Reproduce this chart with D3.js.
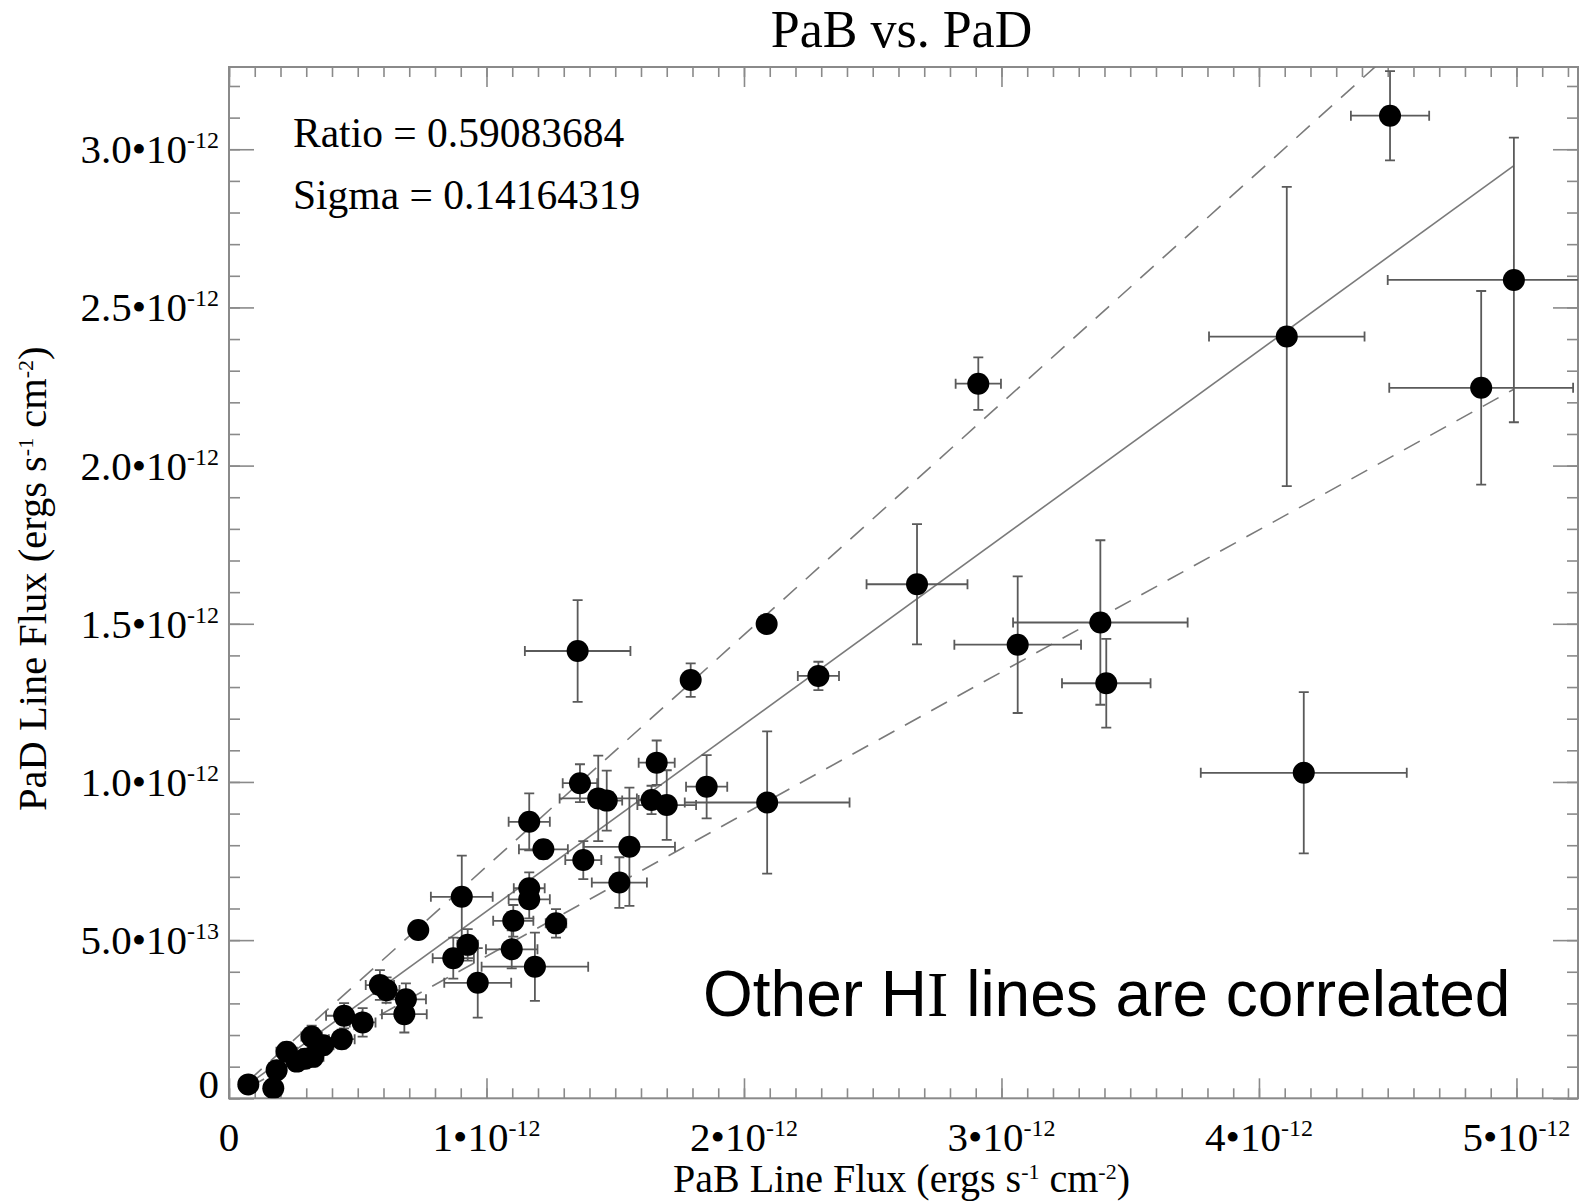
<!DOCTYPE html>
<html><head><meta charset="utf-8">
<script src="https://cdn.jsdelivr.net/npm/d3@7"></script>
<style>body{margin:0;background:#fff}</style>
</head><body>
<svg id="chart" width="1580" height="1204"></svg>
<script>
// Values in units of 1e-12 ergs s^-1 cm^-2
const pabFlux = [4.509,4.99,4.108,4.863,2.910,2.672,3.063,3.384,3.407,4.174,
  1.354,2.088,1.793,2.289,2.090,1.855,1.661,1.641,1.700,1.363,
  1.434,1.467,1.555,1.516,1.376,1.221,1.166,1.166,1.166,1.270,
  1.104,1.098,1.188,0.966,0.927,0.871,0.904,0.735,0.687,0.681,
  0.612,0.586,0.519,0.447,0.438,0.366,0.321,0.327,0.295,0.263,
  0.224,0.185,0.172,0.075];
const padFlux = [3.106,2.587,2.408,2.246,2.259,1.625,1.434,1.504,1.312,1.029,
  1.414,1.499,1.322,1.335,0.935,0.985,1.061,0.943,0.927,0.996,
  0.948,0.941,0.795,0.682,0.753,0.787,0.874,0.664,0.629,0.553,
  0.561,0.471,0.416,0.365,0.485,0.443,0.637,0.532,0.313,0.266,
  0.342,0.358,0.240,0.261,0.187,0.168,0.195,0.131,0.125,0.116,
  0.147,0.089,0.032,0.044];
const pabErr = [0.152,0.49,0.302,0.357,0.088,0.196,0.246,0.339,0.172,0.40,
  0.205,0,0.02,0.08,0.32,0.08,0.07,0.05,0.114,0.067,
  0.15,0.06,0.177,0.107,0.07,0.095,0.08,0.06,0.08,0.04,
  0.078,0.10,0.207,0.13,0.04,0.08,0.12,0,0.078,0.087,
  0.05,0.055,0.05,0.07,0.05,0.04,0.04,0.04,0.04,0.04,
  0.04,0.03,0.02,0.02];
const padErr = [0.141,0.45,0.473,0.306,0.083,0.19,0.216,0.26,0.14,0.255,
  0.161,0,0.053,0.045,0.225,0.10,0.07,0.045,0.11,0.06,
  0.135,0.095,0.187,0.08,0.06,0.03,0.09,0.05,0.06,0.045,
  0.05,0.06,0.108,0.11,0.05,0.065,0.13,0,0.05,0.058,
  0.04,0.047,0.045,0.04,0.03,0.03,0.035,0.03,0.03,0.03,
  0.03,0.02,0.015,0.015];
const ratio = 0.59083684;
const sigma = 0.14164319;
const xTickValues = [0,1,2,3,4,5];
const xTickMantissa = ["0","1•10","2•10","3•10","4•10","5•10"];
const xTickExponent = ["","-12","-12","-12","-12","-12"];
const yTickValues = [0,0.5,1.0,1.5,2.0,2.5,3.0];
const yTickMantissa = ["0","5.0•10","1.0•10","1.5•10","2.0•10","2.5•10","3.0•10"];
const yTickExponent = ["","-13","-12","-12","-12","-12","-12"];

const svg = d3.select("#chart");
const L = 229, R = 1578, T = 67, B = 1098.3;
const x = d3.scaleLinear().domain([0, 5.239]).range([L, R]);
const y = d3.scaleLinear().domain([0, 3.26]).range([B, T]);
const axisCol = "#8a8a8a";
const serif = "'Liberation Serif','Times New Roman',serif";

svg.append("defs").append("clipPath").attr("id","clip")
  .append("rect").attr("x",L).attr("y",T).attr("width",R-L).attr("height",B-T);

// Axes with inward ticks
function tickAxis(axisFn, scale, values, size, transform) {
  const g = svg.append("g").attr("transform", transform)
    .call(axisFn(scale).tickValues(values).tickSize(size).tickFormat(""));
  g.select(".domain").remove();
  g.selectAll("line").attr("stroke", axisCol).attr("stroke-width", 1.6);
}
const xMinor = d3.range(0, 53).map(i => i/10).filter(v => v <= 5.239);
const yMinor = d3.range(0, 33).map(i => i/10).filter(v => v <= 3.26);
tickAxis(d3.axisBottom, x, xMinor, -10, `translate(0,${B})`);
tickAxis(d3.axisBottom, x, xTickValues, -20, `translate(0,${B})`);
tickAxis(d3.axisTop, x, xMinor, -10, `translate(0,${T})`);
tickAxis(d3.axisTop, x, xTickValues, -20, `translate(0,${T})`);
tickAxis(d3.axisLeft, y, yMinor, -11, `translate(${L},0)`);
tickAxis(d3.axisLeft, y, yTickValues, -25, `translate(${L},0)`);
tickAxis(d3.axisRight, y, yMinor, -11, `translate(${R},0)`);
tickAxis(d3.axisRight, y, yTickValues, -25, `translate(${R},0)`);

svg.append("rect").attr("x",L).attr("y",T).attr("width",R-L).attr("height",B-T)
  .attr("fill","none").attr("stroke",axisCol).attr("stroke-width",2);

// tick labels
const tickFont = 41;
function sciText(sel, mant, exp) {
  sel.append("tspan").text(mant);
  if (exp) {
    sel.append("tspan").attr("font-size", 24).attr("dy", -15).text(exp);
  }
}
xTickValues.forEach((v,i) => {
  const t = svg.append("text").attr("x", x(v)).attr("y", 1151)
    .attr("text-anchor","middle").attr("font-family",serif).attr("font-size",tickFont).attr("fill","#000");
  sciText(t, xTickMantissa[i], xTickExponent[i]);
});
yTickValues.forEach((v,i) => {
  const t = svg.append("text").attr("x", 219).attr("y", y(v) + (v === 0 ? 0 : 14))
    .attr("text-anchor","end").attr("font-family",serif).attr("font-size",tickFont).attr("fill","#000");
  sciText(t, yTickMantissa[i], yTickExponent[i]);
});

// titles
svg.append("text").attr("x",(L+R)/2 - 2).attr("y",47).attr("text-anchor","middle")
  .attr("font-family",serif).attr("font-size",52).text("PaB vs. PaD");

function unitTitle(t, name) {
  t.append("tspan").text(name + " Line Flux (ergs s");
  t.append("tspan").attr("font-size",22).attr("dy",-13).text("-1");
  t.append("tspan").attr("dy",13).text(" cm");
  t.append("tspan").attr("font-size",22).attr("dy",-13).text("-2");
  t.append("tspan").attr("dy",13).text(")");
}
unitTitle(svg.append("text").attr("x",(L+R)/2 - 2).attr("y",1192).attr("text-anchor","middle")
  .attr("font-family",serif).attr("font-size",40), "PaB");
unitTitle(svg.append("text").attr("transform",`translate(46,${(T+B)/2 - 4}) rotate(-90)`)
  .attr("text-anchor","middle").attr("font-family",serif).attr("font-size",40.5), "PaD");

// annotations
svg.append("text").attr("x",293).attr("y",147).attr("font-family",serif).attr("font-size",41.5)
  .text("Ratio = " + ratio.toFixed(8));
svg.append("text").attr("x",293).attr("y",209).attr("font-family",serif).attr("font-size",41.5)
  .text("Sigma = " + sigma.toFixed(8));

// fit lines
const xmin = d3.min(pabFlux), xmax = d3.max(pabFlux);
const plot = svg.append("g").attr("clip-path","url(#clip)");
[[ratio, null], [ratio + sigma, "18,12"], [ratio - sigma, "18,12"]].forEach(([s, dash]) => {
  plot.append("line").attr("x1", x(xmin)).attr("y1", y(xmin*s))
    .attr("x2", x(xmax)).attr("y2", y(xmax*s))
    .attr("stroke","#7a7a7a").attr("stroke-width",1.6)
    .attr("stroke-dasharray", dash);
});

// error bars
const data = pabFlux.map((v,i) => ({x:v, y:padFlux[i], ex:pabErr[i], ey:padErr[i]}));
const eb = plot.append("g").attr("stroke","#5a5a5a").attr("stroke-width",1.8).attr("fill","none");
const cap = 5;
data.forEach(d => {
  if (d.ex > 0) {
    const x1 = x(d.x - d.ex), x2 = x(d.x + d.ex), yy = y(d.y);
    eb.append("path").attr("d", `M${x1},${yy}H${x2}M${x1},${yy-cap}V${yy+cap}M${x2},${yy-cap}V${yy+cap}`);
  }
  if (d.ey > 0) {
    const y1 = y(d.y - d.ey), y2 = y(d.y + d.ey), xx = x(d.x);
    eb.append("path").attr("d", `M${xx},${y1}V${y2}M${xx-cap},${y1}H${xx+cap}M${xx-cap},${y2}H${xx+cap}`);
  }
});
plot.append("g").selectAll("circle").data(data).join("circle")
  .attr("cx", d => x(d.x)).attr("cy", d => y(d.y)).attr("r", 11).attr("fill","#000");

// big label
const big = svg.append("text").attr("x",703).attr("y",1016).attr("font-size",64)
  .attr("font-family","'Liberation Sans',Arial,sans-serif");
big.append("tspan").text("Other H");
big.append("tspan").attr("font-family",serif).text("I");
big.append("tspan").text(" lines are correlated");
</script>
</body></html>
